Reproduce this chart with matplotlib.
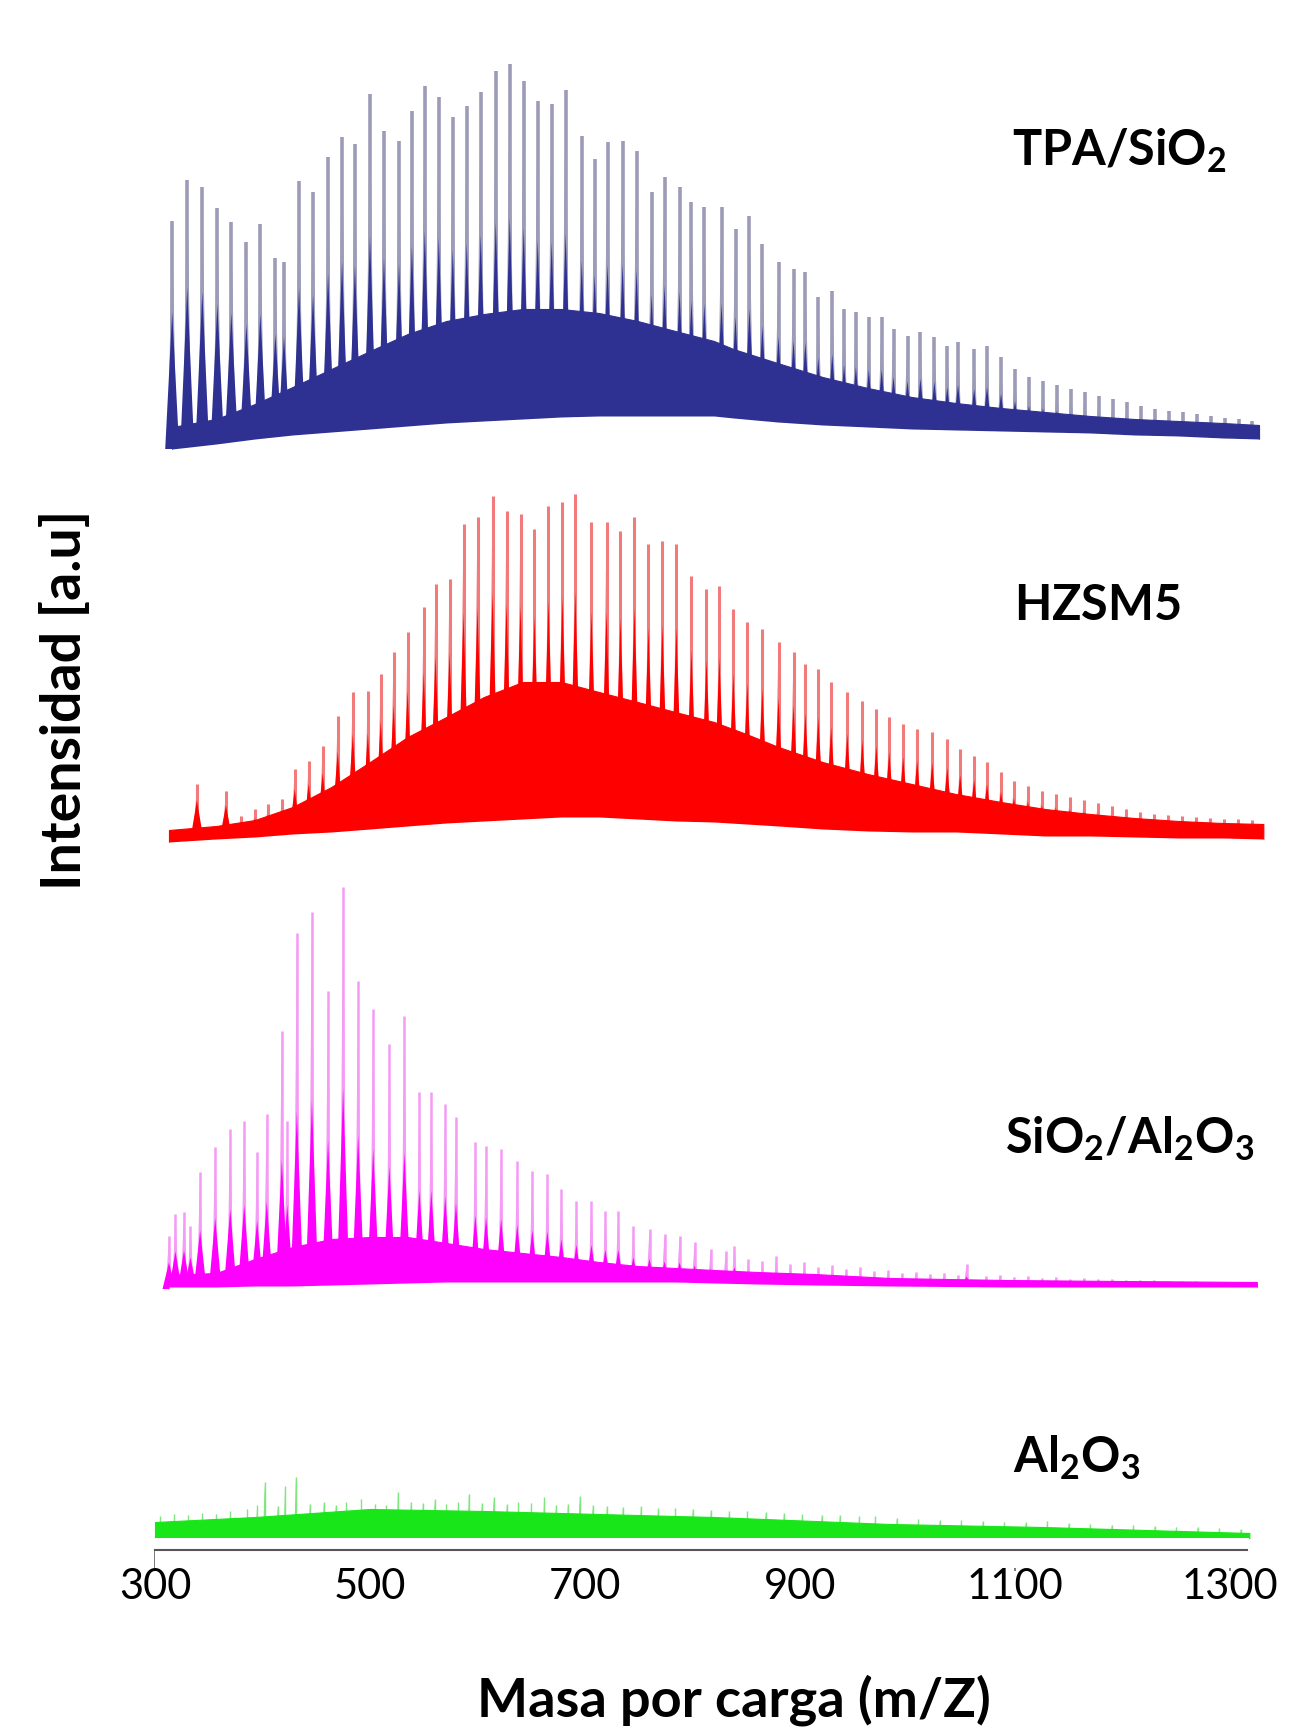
import numpy as np
import matplotlib.pyplot as plt
from matplotlib.collections import PolyCollection

plt.rcParams.update({
    'font.family': 'Lato',
    'mathtext.fontset': 'custom',
    'mathtext.rm': 'Lato',
    'mathtext.bf': 'Lato:bold',
    'mathtext.it': 'Lato:italic',
})

# ---- data (intensities in a.u. above each trace's baseline) ----
labels = [r"TPA/SiO_2", r"HZSM5", r"SiO_2/Al_2O_3", r"Al_2O_3"]
offsets = [1101, 708, 261, 12]

# TPA/SiO2
tpa_peak_mz = [316, 330, 344, 358, 371, 385, 398, 412, 420, 434, 447, 461, 474, 486, 500,
               513, 527, 539, 551, 564, 577, 590, 603, 617, 630, 643, 656, 669, 682, 697,
               709, 721, 735, 748, 762, 774, 788, 799, 811, 827, 840, 853, 865, 880, 894,
               905, 917, 930, 941, 952, 964, 976, 987, 1000, 1012, 1025, 1037, 1047, 1062,
               1074, 1087, 1100, 1113, 1126, 1139, 1152, 1165, 1178, 1191, 1204, 1217, 1230,
               1243, 1256, 1269, 1282, 1295, 1308, 1320]
tpa_peak_int = [228, 269, 262, 241, 227, 207, 225, 191, 187, 268, 257, 292, 312, 305, 355,
                318, 308, 338, 363, 352, 332, 343, 357, 378, 385, 368, 348, 345, 359, 313,
                290, 307, 308, 298, 257, 272, 262, 247, 242, 242, 220, 233, 205, 187, 180,
                177, 152, 158, 140, 137, 132, 132, 120, 113, 117, 112, 103, 107, 100,
                103, 92, 80, 72, 68, 64, 60, 57, 53, 50, 47, 43, 40,
                38, 37, 35, 33, 31, 30, 28]
tpa_body_mz = [316, 357, 393, 428, 464, 500, 535, 571, 606, 642, 678, 713, 749, 784, 820, 838,
               879, 921, 963, 1004, 1045, 1087, 1128, 1170, 1211, 1252, 1293, 1327]
tpa_base = [0, 5, 10, 14, 17, 20, 23, 26, 28, 30, 32, 33, 33, 33, 33, 31,
            27, 24, 22, 20, 19, 18, 17, 16, 14, 13, 11, 10]
tpa_top = [22, 30, 45, 62, 80, 98, 115, 128, 135, 140, 140, 136, 128, 118, 108, 100,
           86, 72, 61, 52, 46, 41, 37, 33, 30, 28, 26, 24]

# HZSM5
hz_peak_mz = [339, 366, 380, 393, 405, 418, 430, 443, 456, 470, 484, 498, 510, 522, 535,
              550, 561, 574, 587, 600, 614, 627, 640, 653, 666, 679, 691, 706, 720, 733,
              746, 759, 772, 785, 799, 813, 825, 838, 851, 865, 880, 894, 905, 917, 929,
              944, 958, 971, 983, 996, 1009, 1023, 1037, 1049, 1062, 1074, 1087, 1099, 1112,
              1125, 1138, 1151, 1164, 1177, 1190, 1203, 1216, 1229, 1242, 1255, 1268, 1281,
              1294, 1307, 1320]
hz_peak_int = [58, 51, 26, 33, 38, 43, 73, 81, 96, 126, 150, 151, 168, 190, 210,
               235, 258, 263, 318, 325, 346, 331, 328, 313, 336, 340, 348, 320, 320, 311,
               325, 298, 301, 298, 266, 253, 256, 233, 220, 213, 200, 190, 178, 173, 160,
               150, 141, 133, 125, 118, 113, 110, 103, 93, 86, 80, 70, 61, 56,
               51, 48, 45, 42, 39, 36, 33, 30, 28, 27, 26, 25, 24,
               23, 23, 22]
hz_body_mz = [313, 357, 393, 428, 446, 464, 500, 535, 571, 606, 642, 678, 713, 749, 784, 820,
              850, 880, 921, 963, 1004, 1045, 1087, 1128, 1170, 1211, 1252, 1293, 1331]
hz_base = [0, 3, 5, 8, 9, 10, 13, 16, 19, 21, 23, 25, 25, 23, 21, 20,
           18, 16, 13, 11, 10, 10, 8, 6, 6, 5, 4, 4, 3]
hz_top = [12, 16, 22, 35, 45, 55, 80, 105, 125, 145, 160, 160, 150, 140, 130, 120,
          108, 95, 80, 68, 58, 48, 40, 33, 28, 24, 21, 19, 18]

# SiO2/Al2O3
sa_peak_mz = [313, 319, 327, 333, 342, 356, 370, 383, 395, 404, 418, 423, 432, 446, 461,
              475, 489, 503, 518, 532, 546, 557, 570, 580, 598, 608, 622, 637, 651, 665,
              678, 692, 706, 719, 731, 745, 760, 774, 788, 802, 817, 831, 839, 852, 865,
              878, 891, 904, 917, 930, 943, 956, 969, 982, 995, 1008, 1021, 1034, 1047,
              1055, 1073, 1086, 1099, 1112, 1125, 1138, 1151, 1164, 1177, 1190, 1203, 1216,
              1229, 1242, 1255, 1268, 1281, 1294, 1307, 1320]
sa_peak_int = [53, 75, 77, 63, 117, 142, 160, 168, 137, 175, 258, 168, 356, 377, 298,
               402, 308, 280, 245, 273, 197, 197, 185, 172, 147, 143, 140, 128, 118, 115,
               100, 88, 88, 78, 78, 63, 60, 55, 53, 47, 40, 38, 43, 30, 28,
               33, 25, 27, 22, 24, 20, 22, 18, 19, 16, 17, 15, 16, 14,
               25, 13, 14, 12, 13, 11, 12, 10, 11, 10, 10, 9, 9,
               9, 8, 8, 8, 7, 7, 7, 6]
sa_body_mz = [313, 357, 393, 428, 464, 500, 535, 571, 606, 642, 678, 713, 749, 784, 820, 860,
              913, 984, 1091, 1197, 1325]
sa_base = [2, 2, 3, 3, 4, 5, 6, 7, 7, 7, 7, 7, 7, 7, 6, 5, 4, 3, 2, 2, 2]
sa_top = [14, 16, 30, 42, 50, 52, 52, 46, 40, 36, 32, 27, 23, 21, 19, 17, 15, 11, 9, 8, 7]

# Al2O3
al_peak_mz = [305, 318, 331, 344, 357, 370, 386, 395, 402, 414, 421, 431, 444, 457, 468,
              478, 492, 505, 515, 526, 538, 549, 560, 571, 582, 592, 604, 615, 627, 638,
              650, 662, 673, 684, 695, 707, 720, 735, 752, 768, 784, 800, 817, 834, 851,
              868, 885, 902, 920, 937, 955, 970, 990, 1010, 1030, 1050, 1070, 1090, 1110,
              1130, 1150, 1170, 1190, 1210, 1230, 1250, 1270, 1290, 1310]
al_peak_int = [22, 24, 23, 25, 24, 27, 29, 33, 56, 32, 52, 61, 34, 36, 33,
               36, 39, 34, 33, 46, 36, 35, 39, 34, 36, 44, 35, 41, 34, 36,
               35, 41, 33, 34, 42, 33, 32, 31, 32, 30, 30, 29, 28, 27, 27,
               26, 25, 24, 23, 23, 22, 22, 20, 19, 18, 18, 17, 16, 16,
               17, 15, 14, 13, 13, 12, 11, 11, 10, 9]
al_body_mz = [300, 393, 500, 606, 713, 820, 984, 1126, 1318]
al_base = [0, 0, 0, 0, 0, 0, 0, 0, 0]
al_top = [16, 21, 29, 27, 24, 21, 14, 11, 5]

series = [
    (tpa_peak_mz, tpa_peak_int, tpa_body_mz, tpa_base, tpa_top),
    (hz_peak_mz, hz_peak_int, hz_body_mz, hz_base, hz_top),
    (sa_peak_mz, sa_peak_int, sa_body_mz, sa_base, sa_top),
    (al_peak_mz, al_peak_int, al_body_mz, al_base, al_top),
]
body_colors = ['#2e3192', '#ff0000', '#ff00ff', '#19e619']
tip_colors = ['#9c9bb8', '#f27a7a', '#f59af5', '#7fe67f']
core_frac = [0.6, 0.72, 0.5, 0.0]
core_hw = [6.5, 6.5, 6.0, 0.0]
tip_hw = [4.0, 3.5, 3.0, 1.5]
tip_lw = [2.6, 2.2, 1.8, 1.0]
label_pos = [(1012, 165), (1014, 620), (1005, 1153), (1013, 1472)]


def peak_polys(mz, inten, base, hw, frac=1.0):
    return [[(m - hw, base), (m, base + h * frac), (m + hw, base)] for m, h in zip(mz, inten)]


def main():
    W, H = 1298, 1731
    fig = plt.figure(figsize=(W / 100, H / 100), dpi=100)
    ax = fig.add_axes([0, 0, 1, 1])
    # axes cover the whole figure: m/z 300 at x=155 px, 107.5 px per 100 m/z; y=0 on the axis line
    ax.set_xlim(300 - 155 / 1.075, 300 + (W - 155) / 1.075)
    ax.set_ylim(-(H - 1551), 1551)

    for i, (pmz, pint, bmz, blo, bhi) in enumerate(series):
        off = offsets[i]
        tips = PolyCollection(peak_polys(pmz, pint, off, tip_hw[i]), facecolors=tip_colors[i],
                              edgecolors='none', zorder=1)
        ax.add_collection(tips)
        ax.vlines(pmz, off, np.array(pint) + off, color=tip_colors[i], lw=tip_lw[i], zorder=1)
        ax.fill_between(bmz, np.array(blo) + off, np.array(bhi) + off,
                        color=body_colors[i], lw=0.8, zorder=2)
        if core_frac[i] > 0:
            cores = PolyCollection(peak_polys(pmz, pint, off, core_hw[i], core_frac[i]),
                                   facecolors=body_colors[i], edgecolors='none', zorder=3)
            ax.add_collection(cores)
        # blank out whatever pokes below the trace's baseline
        ax.fill_between(bmz, off - 30, np.array(blo) + off, color='white', lw=0, zorder=4)

    for sp in ['top', 'right', 'left']:
        ax.spines[sp].set_visible(False)
    ax.spines['bottom'].set_position(('data', 0))
    ax.spines['bottom'].set_bounds(300, 1316)
    ax.spines['bottom'].set_color('#555555')
    ax.spines['bottom'].set_linewidth(1.5)
    ax.spines['bottom'].set_zorder(5)
    ax.set_yticks([])
    ax.set_xticks(range(300, 1301, 200))
    ax.set_xticks(range(400, 1201, 200), minor=True)
    ax.tick_params(axis='x', which='major', length=15, width=1.1, color='#555555',
                   labelsize=30, pad=-3)
    ax.tick_params(axis='x', which='minor', length=8.5, width=1.1, color='#555555')

    fig.text(734 / W, 1 - 1717 / H, "Masa por carga (m/Z)", fontsize=39, fontweight='bold',
             ha='center', va='baseline')
    fig.text(65 / W, 1 - 700 / H, "Intensidad [a.u]", fontsize=40, fontweight='bold',
             rotation=90, ha='center', va='center')
    for lab, (x, y) in zip(labels, label_pos):
        fig.text(x / W, 1 - y / H, r"$\mathbf{" + lab + "}$", fontsize=35,
                 ha='left', va='baseline')

    fig.savefig("out.png", dpi=100)


if __name__ == "__main__":
    main()
